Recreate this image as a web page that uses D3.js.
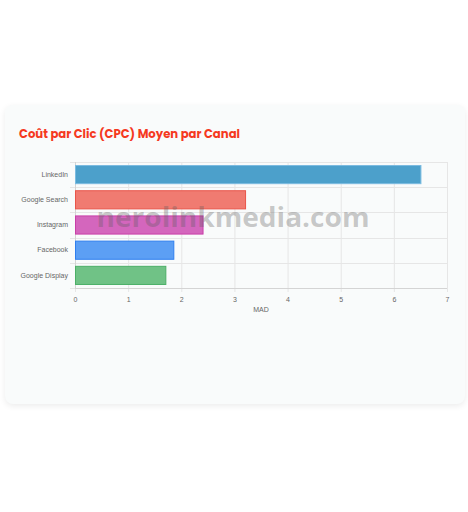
<!DOCTYPE html>
<html>
<head>
<meta charset="utf-8">
<script src="https://cdn.jsdelivr.net/npm/d3@7"></script>
<style>
  html, body { margin: 0; padding: 0; background: #fff; }
  body { width: 468px; height: 512px; position: relative; overflow: hidden; }
  .card {
    position: absolute; left: 5px; top: 105px; width: 460px; height: 299px;
    background: #f9fbfb; border-radius: 8px;
    box-shadow: 0 2px 6px rgba(0,0,0,0.08);
  }
  svg { position: absolute; left: 0; top: 0; }
  .tick text, .lbl { font-family: "Liberation Sans", Arial, sans-serif; font-size: 7px; fill: #666; }
</style>
</head>
<body>
<div class="card"></div>
<div id="chart"></div>
<script>
// data
var channels = ["LinkedIn", "Google Search", "Instagram", "Facebook", "Google Display"];
var cpc = [6.5, 3.2, 2.4, 1.85, 1.7];
var fills = ["#4ca0cb", "#f07b71", "#d466bd", "#5c9ff4", "#70c286"];
var strokes = ["#7bbbe0", "#e9554a", "#c93fa8", "#2f7fef", "#4caf67"];
var xTicks = [0, 1, 2, 3, 4, 5, 6, 7];

var width = 468, height = 512;
var margin = { top: 162, right: 21, bottom: 224, left: 75 };

var svg = d3.select("#chart").append("svg")
  .attr("width", width)
  .attr("height", height);

// title
svg.append("text")
  .attr("x", 19).attr("y", 138)
  .attr("fill", "#f5391f")
  .style("font-family", "Poppins, 'Open Sans', sans-serif")
  .style("font-weight", 700)
  .style("font-size", "13px")
  .attr("textLength", 221)
  .attr("lengthAdjust", "spacingAndGlyphs")
  .text("Coût par Clic (CPC) Moyen par Canal");

var g = svg.append("g")
  .attr("transform", "translate(" + margin.left + "," + margin.top + ")");

var w = width - margin.left - margin.right;
var h = height - margin.top - margin.bottom;

var xScale = d3.scaleLinear().domain([0, 7]).range([0, w]);
var yScale = d3.scaleBand().domain(channels).range([0, h]).paddingInner(0.28).paddingOuter(0.14);

// vertical grid
g.append("g").selectAll("line").data(xTicks).enter().append("line")
  .attr("x1", function (d) { return xScale(d) + 0.5; })
  .attr("x2", function (d) { return xScale(d) + 0.5; })
  .attr("y1", 0).attr("y2", h + 4)
  .attr("stroke", "#e6e6e6");

// horizontal grid at band edges
var edges = channels.map(function (c) { return yScale(c) - yScale.step() * yScale.paddingInner() / 2; });
edges.push(h);
g.append("g").selectAll("line").data(edges).enter().append("line")
  .attr("x1", -5).attr("x2", w)
  .attr("y1", function (d) { return Math.round(d) + 0.5; })
  .attr("y2", function (d) { return Math.round(d) + 0.5; })
  .attr("stroke", "#e6e6e6");

// axis lines
g.append("line").attr("x1", 0.5).attr("x2", 0.5).attr("y1", 0).attr("y2", h).attr("stroke", "#d4d4d4");
g.append("line").attr("x1", 0).attr("x2", w).attr("y1", h + 0.5).attr("y2", h + 0.5).attr("stroke", "#d4d4d4");

// bars
g.append("g").selectAll("rect").data(channels).enter().append("rect")
  .attr("x", xScale(0) + 0.5)
  .attr("y", function (d) { return yScale(d); })
  .attr("width", function (d, i) { return xScale(cpc[i]) - xScale(0); })
  .attr("height", yScale.bandwidth())
  .attr("fill", function (d, i) { return fills[i]; })
  .attr("stroke", function (d, i) { return strokes[i]; })
  .attr("stroke-width", 1);

// axes (labels only)
var xAxis = g.append("g")
  .attr("transform", "translate(0," + h + ")")
  .call(d3.axisBottom(xScale).tickValues(xTicks).tickSize(0).tickPadding(9).tickFormat(d3.format("d")));
xAxis.select(".domain").remove();

var yAxis = g.append("g")
  .call(d3.axisLeft(yScale).tickSize(0).tickPadding(7));
yAxis.select(".domain").remove();

g.append("text").attr("class", "lbl")
  .attr("x", w / 2).attr("y", h + 24)
  .attr("text-anchor", "middle")
  .text("MAD");

// watermark
svg.append("text")
  .attr("x", 233).attr("y", 227)
  .attr("text-anchor", "middle")
  .attr("fill", "rgba(90,90,90,0.32)")
  .style("font-family", "'Open Sans', sans-serif")
  .style("font-weight", 700)
  .style("font-size", "26px")
  .attr("textLength", 273)
  .attr("lengthAdjust", "spacingAndGlyphs")
  .text("nerolinkmedia.com");
</script>
</body>
</html>
